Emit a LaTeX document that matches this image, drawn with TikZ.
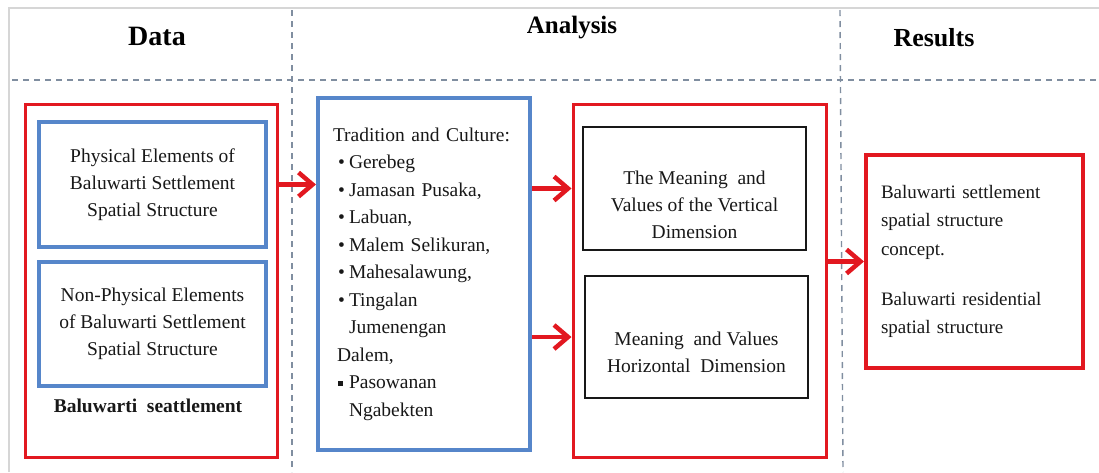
\documentclass[tikz,border=0pt]{standalone}
\usepackage{fontspec}
\setmainfont{Liberation Serif}
\usetikzlibrary{arrows.meta}

\definecolor{boxred}{RGB}{226,24,32}
\definecolor{boxblue}{RGB}{86,134,202}
\definecolor{guide}{RGB}{128,142,160}
\definecolor{ink}{RGB}{24,24,24}
\definecolor{edge}{RGB}{214,214,214}

\newcommand{\bodyfont}{\fontsize{19.5}{27}\selectfont}
\newcommand{\itemmark}{\hspace*{5pt}\makebox[11pt][l]{\textbullet}}
\newcommand{\squaremark}{\hspace*{5pt}\makebox[11pt][l]{\raisebox{3pt}{\rule{5pt}{5pt}}}}

\tikzset{
  outline/.style={draw=edge, line width=2pt},
  guideline/.style={draw=guide, line width=1.4pt, dash pattern=on 6pt off 5pt},
  head/.style={anchor=base, text=black, font=\bfseries#1},
  groupbox/.style={draw=boxred, line width=3pt, fill=white},
  itembox/.style={draw=boxblue, line width=4pt, fill=white, text=ink, font=\bodyfont, align=center},
  dimbox/.style={draw=ink, line width=1.8pt, fill=white},
  resultbox/.style={draw=boxred, line width=4pt, fill=white, text=ink, font=\fontsize{19}{28.5}\selectfont, align=left},
  bodytext/.style={text=ink, font=\bodyfont, align=center},
  flow/.style={draw=boxred, line width=4.5pt,
    -{Straight Barb[length=14pt,width=24pt,line width=4.5pt]}}
}

\begin{document}
\begin{tikzpicture}[x=1pt,y=-1pt]
\useasboundingbox (0,0) rectangle (1099,472);

% page edge and column guides
\draw[outline] (9,472) -- (9,8) -- (1099,8);
\draw[guideline] (12,80) -- (1099,80);
\draw[guideline] (292,10) -- (292,472);
\draw[guideline] (840,10) -- (843,472);

% column titles
\node[head={\fontsize{28}{30}\selectfont}] (tdata) at (157,45) {Data};
\node[head={\fontsize{25}{28}\selectfont}] (tanalysis) at (572,33) {Analysis};
\node[head={\fontsize{26}{28}\selectfont}] (tresults) at (934,46) {Results};

% data column
\node[groupbox, minimum width=252pt, minimum height=353pt] (settle) at (151,280.5) {};
\node[itembox, minimum width=227pt, minimum height=125pt] (phys) at (152.5,184.5)
  {Physical Elements of\\Baluwarti Settlement\\Spatial Structure};
\node[itembox, minimum width=227pt, minimum height=124pt] (nonphys) at (152.5,324)
  {Non-Physical Elements\\of Baluwarti Settlement\\Spatial Structure};
\node[anchor=base, text=ink, font=\bfseries\fontsize{19.5}{24}\selectfont] (settlelabel) at (148,412)
  {Baluwarti\ \ seattlement};

% analysis column
\node[itembox, align=left, text width=182pt, minimum width=212pt, minimum height=352pt,
      font=\fontsize{19.5}{27.5}\selectfont] (trad) at (424,274)
  {Tradition and Culture:\\
   \itemmark Gerebeg\\
   \itemmark Jamasan Pusaka,\\
   \itemmark Labuan,\\
   \itemmark Malem Selikuran,\\
   \itemmark Mahesalawung,\\
   \itemmark Tingalan\\
   \hspace*{16pt}Jumenengan\\
   \hspace*{4pt}Dalem,\\
   \squaremark Pasowanan\\
   \hspace*{16pt}Ngabekten};

\node[groupbox, minimum width=253pt, minimum height=353pt] (meaning) at (699.5,280.5) {};
\node[dimbox, minimum width=223pt, minimum height=123pt] (vert) at (694.5,188.5) {};
\node[bodytext] (verttext) at (694.5,205)
  {The Meaning\ \ and\\Values of the Vertical\\Dimension};
\node[dimbox, minimum width=223pt, minimum height=122pt] (horiz) at (696.5,337) {};
\node[bodytext] (horiztext) at (696.5,352)
  {Meaning\ \ and Values\\Horizontal\ \ Dimension};

% results column
\node[resultbox, text width=187pt, minimum width=217pt, minimum height=213pt] (result) at (974.5,261.5)
  {Baluwarti settlement\\spatial structure\\concept.\\[21.5pt]Baluwarti residential\\spatial structure};

% flow between columns
\draw[flow] (settle.east |- phys.east) -- (trad.west |- phys.east);
\draw[flow] (trad.east |- vert.west) -- (meaning.west |- vert.west);
\draw[flow] (trad.east |- horiz.west) -- (meaning.west |- horiz.west);
\draw[flow] (meaning.east |- result.west) -- (result.west);
\end{tikzpicture}
\end{document}
